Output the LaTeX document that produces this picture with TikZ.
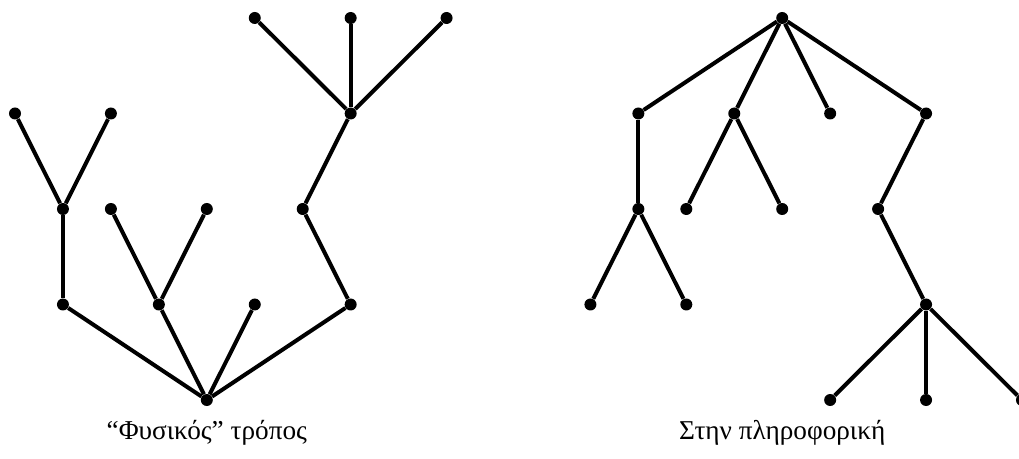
\documentclass[tikz,border=0pt]{standalone}
\usepackage{fontspec}
\setmainfont{Liberation Serif}
\usepackage{tikz}
\usetikzlibrary{positioning}

\begin{document}
\begin{tikzpicture}[
  scale=1,
  x=1.0cm,
  y=1.0cm,
  every node/.style={font=\fontsize{15.5}{18}\selectfont},
  vert/.style={circle, fill, inner sep=0pt, minimum size=0.24cm},
  edge/.style={line width=0.08cm},
  caption/.style={inner sep=0pt}
]

\def\dx{0.959}
\def\dy{1.91}

\useasboundingbox (-0.3,-1.18) rectangle (20.08,8.0);

% physical way
\node[vert] (r) at (4*\dx,0) {};
\node[vert] (a) at (\dx,\dy) {};
\node[vert] (b) at (3*\dx,\dy) {};
\node[vert] (c) at (5*\dx,\dy) {};
\node[vert] (d) at (7*\dx,\dy) {};
\node[vert] (a1) at (\dx,2*\dy) {};
\node[vert] (a11) at (0,3*\dy) {};
\node[vert] (a12) at (2*\dx,3*\dy) {};
\node[vert] (b1) at (2*\dx,2*\dy) {};
\node[vert] (b2) at (4*\dx,2*\dy) {};
\node[vert] (d1) at (6*\dx,2*\dy) {};
\node[vert] (d11) at (7*\dx,3*\dy) {};
\node[vert] (e1) at (5*\dx,4*\dy) {};
\node[vert] (e2) at (7*\dx,4*\dy) {};
\node[vert] (e3) at (9*\dx,4*\dy) {};

\draw[edge] (r) -- (a);
\draw[edge] (r) -- (b);
\draw[edge] (r) -- (c);
\draw[edge] (r) -- (d);
\draw[edge] (a) -- (a1);
\draw[edge] (a1) -- (a11);
\draw[edge] (a1) -- (a12);
\draw[edge] (b) -- (b1);
\draw[edge] (b) -- (b2);
\draw[edge] (d) -- (d1);
\draw[edge] (d1) -- (d11);
\draw[edge] (d11) -- (e1);
\draw[edge] (d11) -- (e2);
\draw[edge] (d11) -- (e3);

\node[caption] (capL) at (4*\dx,-0.66) {``Φυσικός'' τρόπος};

% computer science way
\node[vert] (R) at (16*\dx,4*\dy) {};
\node[vert] (A) at (13*\dx,3*\dy) {};
\node[vert] (B) at (15*\dx,3*\dy) {};
\node[vert] (C) at (17*\dx,3*\dy) {};
\node[vert] (D) at (19*\dx,3*\dy) {};
\node[vert] (A1) at (13*\dx,2*\dy) {};
\node[vert] (A11) at (12*\dx,\dy) {};
\node[vert] (A12) at (14*\dx,\dy) {};
\node[vert] (B1) at (14*\dx,2*\dy) {};
\node[vert] (B2) at (16*\dx,2*\dy) {};
\node[vert] (D1) at (18*\dx,2*\dy) {};
\node[vert] (D11) at (19*\dx,\dy) {};
\node[vert] (E1) at (17*\dx,0) {};
\node[vert] (E2) at (19*\dx,0) {};
\node[vert] (E3) at (21*\dx,0) {};

\draw[edge] (R) -- (A);
\draw[edge] (R) -- (B);
\draw[edge] (R) -- (C);
\draw[edge] (R) -- (D);
\draw[edge] (A) -- (A1);
\draw[edge] (A1) -- (A11);
\draw[edge] (A1) -- (A12);
\draw[edge] (B) -- (B1);
\draw[edge] (B) -- (B2);
\draw[edge] (D) -- (D1);
\draw[edge] (D1) -- (D11);
\draw[edge] (D11) -- (E1);
\draw[edge] (D11) -- (E2);
\draw[edge] (D11) -- (E3);

\node[caption] (capR) at (16*\dx,-0.66) {Στην πληροφορική};

\end{tikzpicture}
\end{document}
